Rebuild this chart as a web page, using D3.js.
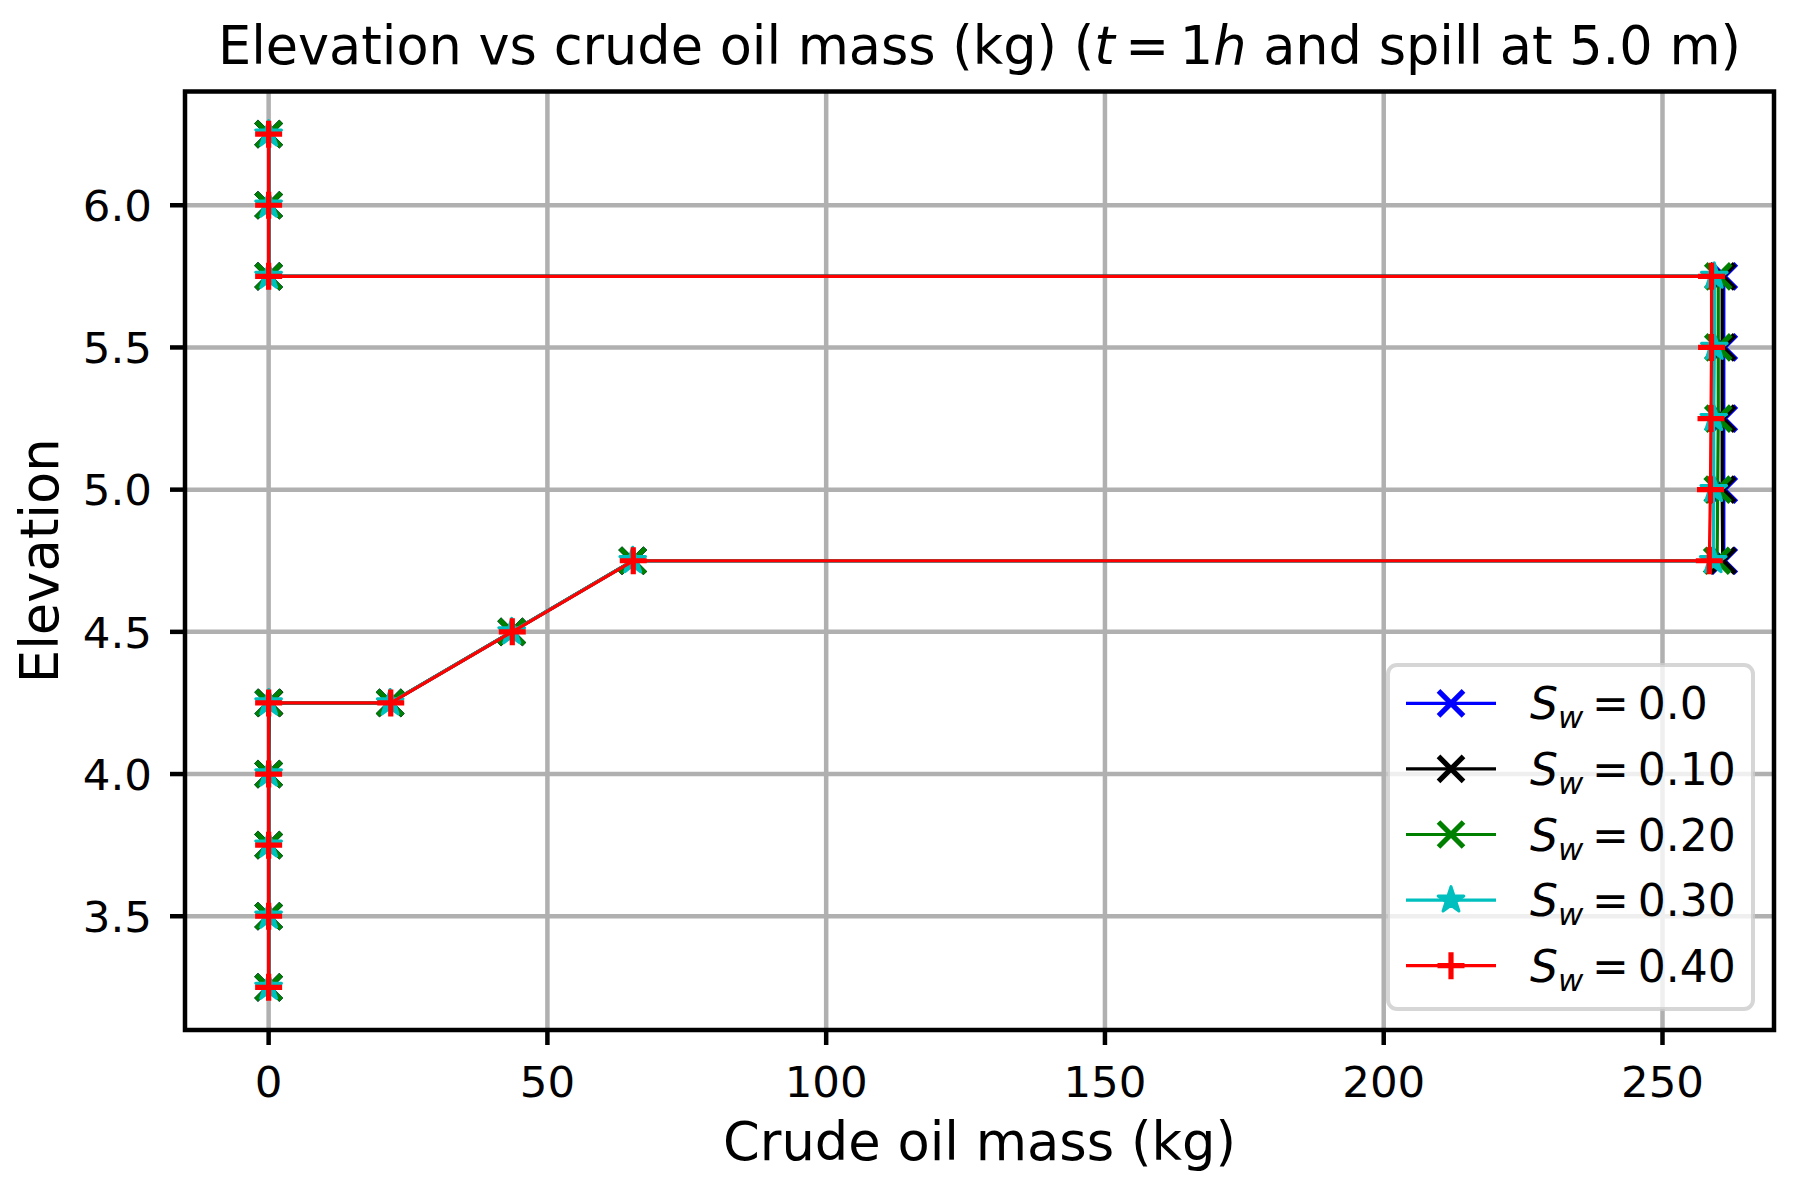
<!DOCTYPE html>
<html>
<head>
<meta charset="utf-8">
<script src="https://cdn.jsdelivr.net/npm/d3@7"></script>
<style>
  html, body { margin: 0; padding: 0; background: #fff; }
  svg { display: block; }
  text { font-family: "DejaVu Sans", sans-serif; fill: #000; }
</style>
</head>
<body>
<svg id="chart" width="1802" height="1186"></svg>
<script>
// ---- data ----
const elevation = [3.25, 3.5, 3.75, 4.0, 4.25, 4.25, 4.5, 4.75, 4.75, 5.0, 5.25, 5.5, 5.75, 5.75, 6.0, 6.25];
const massSw00 = [0, 0, 0, 0, 0, 21.8, 43.6, 65.3, 261.0, 261.0, 261.0, 261.0, 261.0, 0, 0, 0];
const massSw10 = [0, 0, 0, 0, 0.1, 21.8, 43.6, 65.3, 260.8, 260.7, 260.7, 260.7, 260.7, 0, 0, 0];
const massSw20 = [0, 0, 0, 0, 0, 21.8, 43.6, 65.3, 259.8, 259.9, 260.0, 260.0, 260.0, 0, 0, 0];
const massSw30 = [0, 0, 0, 0, 0, 21.8, 43.6, 65.3, 259.1, 259.2, 259.2, 259.3, 259.3, 0, 0, 0];
const massSw40 = [0, 0, 0, 0, 0, 21.9, 43.7, 65.4, 258.4, 258.6, 258.7, 258.8, 258.8, 0, 0, 0];
const seriesLabels = ["0.0", "0.10", "0.20", "0.30", "0.40"];
const seriesColors = ["#0000ff", "#000000", "#008000", "#00bfbf", "#ff0000"];
const seriesMarkers = ["x", "x", "x", "star", "plus"];
const xTicks = [0, 50, 100, 150, 200, 250];
const yTicks = [3.5, 4.0, 4.5, 5.0, 5.5, 6.0];
const xDomain = [-15, 270];
const yDomain = [3.1, 6.4];

const seriesMass = [massSw00, massSw10, massSw20, massSw30, massSw40];

// ---- layout ----
const svg = d3.select("#chart");
const L = 185, R = 1774, T = 91.5, B = 1030;
const x = d3.scaleLinear().domain(xDomain).range([L, R]);
const y = d3.scaleLinear().domain(yDomain).range([B, T]);

const gridColor = "#b0b0b0";
const grid = svg.append("g");
xTicks.forEach(t => grid.append("line").attr("x1", x(t)).attr("x2", x(t)).attr("y1", T).attr("y2", B)
  .attr("stroke", gridColor).attr("stroke-width", 4.5));
yTicks.forEach(t => grid.append("line").attr("x1", L).attr("x2", R).attr("y1", y(t)).attr("y2", y(t))
  .attr("stroke", gridColor).attr("stroke-width", 4.5));

// marker drawing
function drawMarker(g, type, cx, cy, color) {
  if (type === "x") {
    const h = 12.5;
    g.append("path").attr("d", `M${cx-h},${cy-h}L${cx+h},${cy+h}M${cx-h},${cy+h}L${cx+h},${cy-h}`)
      .attr("stroke", color).attr("stroke-width", 5.2).attr("fill", "none");
  } else if (type === "plus") {
    const h = 13.5;
    g.append("path").attr("d", `M${cx-h},${cy}L${cx+h},${cy}M${cx},${cy-h}L${cx},${cy+h}`)
      .attr("stroke", color).attr("stroke-width", 5.2).attr("fill", "none");
  } else if (type === "star") {
    const ro = 13.5, ri = ro * 0.381966;
    const pts = [];
    for (let i = 0; i < 10; i++) {
      const r = i % 2 === 0 ? ro : ri;
      const a = -Math.PI / 2 + i * Math.PI / 5;
      pts.push([cx + r * Math.cos(a), cy + r * Math.sin(a)]);
    }
    g.append("path").attr("d", "M" + pts.map(p => p.join(",")).join("L") + "Z")
      .attr("fill", color).attr("stroke", color).attr("stroke-width", 3).attr("stroke-linejoin", "round");
  }
}

const line = d3.line().x(d => x(d[0])).y(d => y(d[1]));
const plot = svg.append("g");
seriesMass.forEach((mass, i) => {
  const pts = mass.map((m, j) => [m, elevation[j]]);
  const g = plot.append("g");
  g.append("path").attr("d", line(pts)).attr("fill", "none")
    .attr("stroke", seriesColors[i]).attr("stroke-width", 3.2);
  pts.forEach(p => drawMarker(g, seriesMarkers[i], x(p[0]), y(p[1]), seriesColors[i]));
});

// spines
svg.append("rect").attr("x", L).attr("y", T).attr("width", R - L).attr("height", B - T)
  .attr("fill", "none").attr("stroke", "#000").attr("stroke-width", 4.5);

// ticks
const tickLen = 15;
xTicks.forEach(t => {
  svg.append("line").attr("x1", x(t)).attr("x2", x(t)).attr("y1", B).attr("y2", B + tickLen)
    .attr("stroke", "#000").attr("stroke-width", 4.5);
  svg.append("text").attr("x", x(t)).attr("y", B + 67).attr("text-anchor", "middle")
    .attr("font-size", 43.5).text(d3.format("d")(t));
});
yTicks.forEach(t => {
  svg.append("line").attr("x1", L).attr("x2", L - tickLen).attr("y1", y(t)).attr("y2", y(t))
    .attr("stroke", "#000").attr("stroke-width", 4.5);
  svg.append("text").attr("x", L - tickLen - 18).attr("y", y(t)).attr("dy", "0.36em")
    .attr("text-anchor", "end").attr("font-size", 43.5).text(d3.format(".1f")(t));
});

// axis labels
svg.append("text").attr("x", (L + R) / 2).attr("y", 1160).attr("text-anchor", "middle")
  .attr("font-size", 52.7).text("Crude oil mass (kg)");
svg.append("text").attr("transform", `translate(58,${(T + B) / 2}) rotate(-90)`)
  .attr("text-anchor", "middle").attr("font-size", 52.7).text("Elevation");

// title
const title = svg.append("text").attr("x", (L + R) / 2).attr("y", 64).attr("text-anchor", "middle")
  .attr("font-size", 52.5);
title.append("tspan").text("Elevation vs crude oil mass (kg) (");
title.append("tspan").attr("font-style", "italic").text("t");
title.append("tspan").text("\u2009=\u20091");
title.append("tspan").attr("font-style", "italic").text("h");
title.append("tspan").text(" and spill at 5.0 m)");

// legend
const lg = svg.append("g");
const lx = 1388, ly = 665, lw = 365, lh = 344;
lg.append("rect").attr("x", lx).attr("y", ly).attr("width", lw).attr("height", lh)
  .attr("rx", 9).attr("fill", "#fff").attr("fill-opacity", 0.8)
  .attr("stroke", "#cccccc").attr("stroke-opacity", 0.8).attr("stroke-width", 4);
seriesLabels.forEach((lab, i) => {
  const cy = 703.3 + i * 65.6;
  lg.append("line").attr("x1", 1406).attr("x2", 1496).attr("y1", cy).attr("y2", cy)
    .attr("stroke", seriesColors[i]).attr("stroke-width", 3.2);
  drawMarker(lg, seriesMarkers[i], 1451, cy, seriesColors[i]);
  const t = lg.append("text").attr("x", 1530).attr("y", cy + 16).attr("font-size", 44);
  t.append("tspan").attr("font-style", "italic").text("S");
  t.append("tspan").attr("font-style", "italic").attr("font-size", 31).attr("dy", 9).text("w");
  t.append("tspan").attr("dy", -9).text("\u2009=\u2009" + lab);
});
</script>
</body>
</html>
